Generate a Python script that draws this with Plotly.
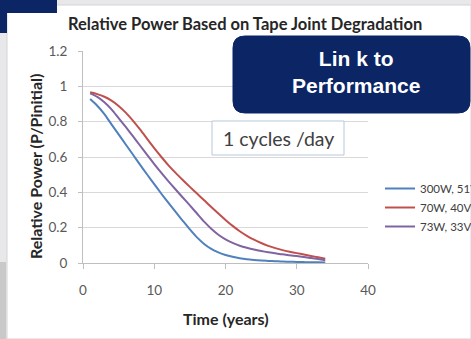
import plotly.graph_objects as go

# Relative power vs. time for three module configurations (1 cycle/day)
years = list(range(1, 35))

power_300w_51v = [0.928, 0.890, 0.843, 0.785, 0.728, 0.671, 0.614, 0.557, 0.501, 0.446,
                  0.392, 0.340, 0.289, 0.239, 0.190, 0.145, 0.108, 0.080, 0.060, 0.045,
                  0.035, 0.027, 0.021, 0.017, 0.014, 0.012, 0.010, 0.008, 0.007, 0.006,
                  0.005, 0.004, 0.004, 0.003]

power_70w_40v = [0.966, 0.956, 0.941, 0.919, 0.889, 0.851, 0.806, 0.756, 0.703, 0.650,
                 0.600, 0.553, 0.510, 0.470, 0.431, 0.393, 0.355, 0.317, 0.280, 0.244,
                 0.210, 0.180, 0.154, 0.132, 0.113, 0.097, 0.084, 0.073, 0.064, 0.056,
                 0.048, 0.040, 0.032, 0.024]

power_73w_33v = [0.960, 0.940, 0.910, 0.870, 0.820, 0.770, 0.718, 0.665, 0.612, 0.560,
                 0.510, 0.462, 0.416, 0.371, 0.326, 0.280, 0.234, 0.194, 0.160, 0.134,
                 0.114, 0.098, 0.086, 0.076, 0.068, 0.061, 0.055, 0.049, 0.044, 0.039,
                 0.034, 0.028, 0.022, 0.016]

series_names = ["300W, 51V", "70W, 40V", "73W, 33V"]
series_colors = ["#4F81BD", "#C0504D", "#8064A2"]

W, H = 471, 339
L, R, T, B = 83, 368, 51, 263  # plot area in pixels


def px(x):
    return (x - L) / (R - L)


def py(y):
    return (B - y) / (B - T)


FONT = "Lato, 'Open Sans', sans-serif"
NAVY = "#0b2565"

fig = go.Figure()
for name, ys, col in zip(series_names,
                         [power_300w_51v, power_70w_40v, power_73w_33v],
                         series_colors):
    fig.add_trace(go.Scatter(x=years, y=ys, mode="lines", name=name,
                             line=dict(color=col, width=2, shape="spline", smoothing=0.8)))

shapes = [
    # slide background pieces
    dict(type="rect", xref="paper", yref="paper", x0=px(7), x1=px(471), y0=py(339), y1=py(5),
         fillcolor="white", line=dict(color="#d4d4d4", width=1), layer="below"),
    dict(type="rect", xref="paper", yref="paper", x0=px(0), x1=px(57), y0=py(13), y1=py(0),
         fillcolor=NAVY, line=dict(width=0), layer="above"),
    dict(type="rect", xref="paper", yref="paper", x0=px(0), x1=px(7), y0=py(33), y1=py(0),
         fillcolor=NAVY, line=dict(width=0), layer="above"),
    dict(type="rect", xref="paper", yref="paper", x0=px(0), x1=px(6), y0=py(339), y1=py(262),
         fillcolor="#c9c9c9", line=dict(width=0), layer="above"),
    # "1 cycles /day" text box
    dict(type="rect", xref="paper", yref="paper", x0=px(212), x1=px(344), y0=py(155), y1=py(121),
         fillcolor="white", line=dict(color="#b7c7da", width=1), layer="above"),
]

# rounded navy call-out box
x0, x1, y0, y1, r = 233, 470, 36, 113, 12
path = (f"M {x0 + r},{y0} L {x1 - r},{y0} Q {x1},{y0} {x1},{y0 + r} "
        f"L {x1},{y1 - r} Q {x1},{y1} {x1 - r},{y1} L {x0 + r},{y1} "
        f"Q {x0},{y1} {x0},{y1 - r} L {x0},{y0 + r} Q {x0},{y0} {x0 + r},{y0} Z")


def conv_path(p):
    out = []
    for tok in p.split(" "):
        if "," in tok:
            a, b = tok.split(",")
            out.append(f"{px(float(a)):.5f},{py(float(b)):.5f}")
        else:
            out.append(tok)
    return " ".join(out)


shapes.append(dict(type="path", xref="paper", yref="paper", path=conv_path(path),
                   fillcolor=NAVY, line=dict(color=NAVY, width=1), layer="above"))


def label(text, x, y, size, color="#262626", family=FONT, angle=0):
    return dict(text=text, x=px(x), y=py(y), xref="paper", yref="paper",
                xanchor="center", yanchor="middle", showarrow=False, textangle=angle,
                font=dict(family=family, size=size, color=color))


annotations = [
    label("<b>Relative Power Based on Tape Joint Degradation</b>", 245, 24, 16.5),
    label("<b>Time (years)</b>", 226, 318, 16),
    label("<b>Relative Power (P/Pinitial)</b>", 35, 167, 16, angle=-90),
    label("1 cycles /day", 278, 138, 19.5, color="#404040"),
    label("<b>Lin k to<br>Performance</b>", 356, 72, 21, color="white",
          family="'Liberation Sans', Arial, sans-serif"),
]

fig.update_layout(
    width=W, height=H,
    margin=dict(l=L, r=W - R, t=T, b=H - B, autoexpand=False),
    paper_bgcolor="#e8e8ea",
    plot_bgcolor="rgba(0,0,0,0)",
    showlegend=True,
    legend=dict(x=px(380), y=py(174), xanchor="left", yanchor="top",
                bgcolor="rgba(0,0,0,0)", font=dict(family=FONT, size=11.5, color="#404040"),
                tracegroupgap=0),
    shapes=shapes,
    annotations=annotations,
    xaxis=dict(range=[0, 40], dtick=10, showgrid=False, zeroline=False,
               showline=True, linecolor="#bfbfbf", linewidth=1,
               ticks="outside", ticklen=5, tickcolor="#bfbfbf",
               ticklabelstandoff=10,
               tickfont=dict(family=FONT, size=13.5, color="#595959")),
    yaxis=dict(range=[0, 1.2], dtick=0.2, showgrid=True, gridcolor="#d9d9d9", gridwidth=1,
               zeroline=False, showline=True, linecolor="#bfbfbf", linewidth=1,
               ticks="outside", ticklen=4, tickcolor="#bfbfbf",
               ticklabelstandoff=8,
               tickfont=dict(family=FONT, size=13.5, color="#595959")),
)

fig.write_html("out.html")
